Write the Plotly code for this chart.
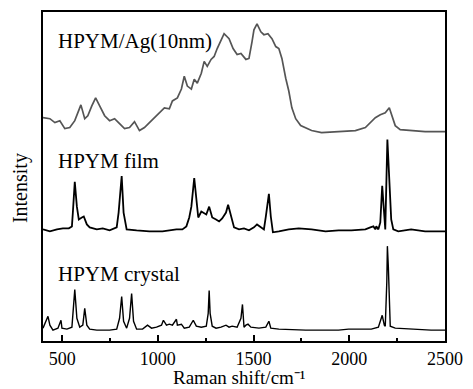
import plotly.graph_objects as go

# HPYM/Ag(10nm) (offset spectrum, arbitrary intensity units)
ag_x = [400, 436, 462, 488, 514, 540, 566, 598, 618, 634, 655, 675, 696, 722, 748, 774, 800, 826, 852, 878,
        904, 930, 956, 982, 1008, 1034, 1060, 1076, 1102, 1123, 1138, 1154, 1175, 1190, 1206, 1227, 1242, 1258,
        1278, 1294, 1310, 1330, 1346, 1372, 1393, 1414, 1434, 1460, 1476, 1492, 1502, 1518, 1538, 1554, 1575,
        1596, 1616, 1632, 1648, 1668, 1684, 1700, 1720, 1746, 1772, 1803, 1855, 1944, 2032, 2084, 2110, 2136,
        2162, 2188, 2209, 2224, 2240, 2266, 2323, 2396, 2464, 2500]
ag_y = [226, 225, 221, 223, 215, 216, 223, 239, 225, 228, 238, 246, 238, 228, 223, 225, 220, 215, 216, 222,
        213, 216, 221, 226, 231, 236, 235, 243, 246, 255, 268, 258, 255, 265, 261, 271, 283, 278,
        285, 288, 296, 305, 311, 306, 296, 290, 291, 285, 286, 303, 315, 321, 313, 310, 311,
        306, 298, 296, 286, 266, 253, 236, 225, 218, 216, 213, 211, 212, 213, 216, 221, 226,
        229, 231, 236, 228, 218, 214, 213, 212, 212, 212]

# HPYM film
film_x = [400, 436, 473, 504, 535, 551, 556, 566, 577, 587, 603, 613, 629, 644, 681, 712, 748, 785, 795, 811,
          821, 837, 889, 956, 1024, 1097, 1128, 1149, 1164, 1175, 1190, 1201, 1211, 1227, 1237, 1253, 1268,
          1284, 1304, 1320, 1336, 1356, 1367, 1382, 1398, 1424, 1450, 1476, 1502, 1518, 1538, 1554, 1564,
          1580, 1590, 1601, 1632, 1684, 1736, 1803, 1876, 1944, 2011, 2084, 2110, 2126, 2136, 2141, 2152,
          2162, 2172, 2183, 2188, 2199, 2209, 2219, 2230, 2256, 2323, 2396, 2464, 2500]
film_y = [113, 111, 113, 114, 114, 116, 130, 161, 136, 123, 125, 126, 118, 115, 113, 114, 112, 115, 130, 167,
          130, 113, 112, 111, 111, 113, 113, 116, 125, 136, 165, 140, 125, 131, 130, 128, 136,
          125, 123, 121, 124, 130, 138, 126, 115, 113, 114, 112, 115, 118, 115, 113, 126,
          149, 126, 110, 111, 113, 114, 113, 111, 112, 112, 113, 115, 116, 113, 116, 113,
          120, 157, 126, 113, 204, 156, 123, 113, 111, 113, 111, 111, 111]

# HPYM crystal
cryst_x = [400, 416, 426, 436, 452, 478, 494, 499, 525, 551, 556, 566, 577, 592, 608, 618, 629, 644, 681, 748,
           785, 800, 811, 821, 837, 852, 863, 873, 889, 920, 946, 967, 993, 1019, 1029, 1045, 1060, 1076,
           1097, 1102, 1123, 1138, 1164, 1185, 1201, 1227, 1253, 1263, 1268, 1273, 1284, 1304, 1330, 1356,
           1372, 1388, 1414, 1434, 1442, 1450, 1460, 1471, 1486, 1528, 1564, 1580, 1590, 1632, 1772, 1944,
           1996, 2115, 2152, 2167, 2172, 2183, 2188, 2196, 2199, 2204, 2209, 2214, 2240, 2323, 2427, 2500]
cryst_y = [13, 21, 25, 16, 11, 13, 21, 13, 12, 14, 30, 52, 23, 14, 16, 33, 16, 12, 11, 11,
           12, 23, 45, 20, 13, 23, 48, 20, 12, 12, 16, 13, 14, 16, 21, 16, 17, 16,
           22, 16, 17, 13, 14, 21, 15, 14, 15, 28, 51, 28, 15, 13, 14, 16,
           14, 15, 14, 23, 37, 14, 16, 17, 14, 13, 14, 20, 13, 12, 11, 11,
           12, 12, 14, 23, 26, 16, 15, 60, 96, 75, 46, 15, 13, 12, 11, 11]

labels = ["HPYM/Ag(10nm)", "HPYM film", "HPYM crystal"]
label_y = [304, 182, 68]

FONT = "Liberation Serif"

fig = go.Figure()
fig.add_trace(go.Scatter(x=ag_x, y=ag_y, mode="lines", line=dict(color="#555555", width=1.7), showlegend=False))
fig.add_trace(go.Scatter(x=film_x, y=film_y, mode="lines", line=dict(color="#000000", width=1.8), showlegend=False))
fig.add_trace(go.Scatter(x=cryst_x, y=cryst_y, mode="lines", line=dict(color="#000000", width=1.4), showlegend=False))

for t, yv in zip(labels, label_y):
    fig.add_annotation(x=468, y=yv, xref="x", yref="y", text=t, showarrow=False,
                       xanchor="left", yanchor="middle", font=dict(family=FONT, size=21, color="black"))

fig.add_annotation(x=-0.057, y=0.465, xref="paper", yref="paper", text="Intensity", textangle=-90,
                   showarrow=False, xanchor="center", yanchor="middle",
                   font=dict(family=FONT, size=20, color="black"))
fig.add_annotation(x=0.49, y=-48 / 331, xref="paper", yref="paper", text="Raman shift/cm⁻¹",
                   showarrow=False, xanchor="center", yanchor="bottom", borderpad=0,
                   font=dict(family=FONT, size=19, color="black"))

fig.update_layout(
    width=473, height=389,
    margin=dict(l=43, r=26, t=10, b=48),
    paper_bgcolor="white", plot_bgcolor="white",
    font=dict(family=FONT, size=18, color="black"),
    xaxis=dict(range=[400, 2500], tickmode="linear", tick0=500, dtick=500,
               ticks="inside", ticklen=6, tickwidth=1.5, tickcolor="black",
               minor=dict(ticks="inside", ticklen=3, tickwidth=1.5, tickcolor="black", dtick=250, tick0=250),
               showline=True, linecolor="black", linewidth=1.8, mirror=True,
               showgrid=False, zeroline=False, tickfont=dict(family=FONT, size=18)),
    yaxis=dict(range=[0, 333], showticklabels=False, ticks="",
               showline=True, linecolor="black", linewidth=1.8, mirror=True,
               showgrid=False, zeroline=False),
)

fig.write_html("out.html")
